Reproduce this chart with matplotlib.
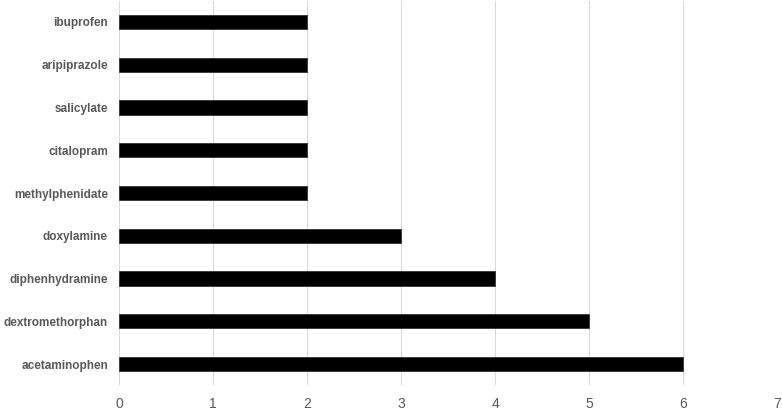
import matplotlib
matplotlib.use("Agg")
import matplotlib.pyplot as plt

drugs = ["acetaminophen", "dextromethorphan", "diphenhydramine", "doxylamine",
         "methylphenidate", "citalopram", "salicylate", "aripiprazole", "ibuprofen"]
counts = [6, 5, 4, 3, 2, 2, 2, 2, 2]
xticks = [0, 1, 2, 3, 4, 5, 6, 7]

plt.rcParams['font.family'] = ['Liberation Sans', 'DejaVu Sans']

fig = plt.figure(figsize=(7.82, 4.09), dpi=100)
ax = fig.add_axes([119/782, (409-385.4)/409, (777-119)/782, (385.4-0.6)/409])

ax.barh(range(len(drugs)), counts, height=0.33, color="black", edgecolor="#333333",
        linewidth=0.6, zorder=3)

ax.set_xlim(0, 7)
ax.set_ylim(-0.5, len(drugs) - 0.5)
ax.set_xticks(xticks)
ax.set_yticks(range(len(drugs)))
ax.set_yticklabels(drugs, fontweight="bold", color="#595959", fontsize=8.5)
ax.tick_params(axis="y", length=0, pad=8)
ax.tick_params(axis="x", length=0, pad=8, labelsize=10, labelcolor="#595959")
ax.grid(axis="x", color="#d9d9d9", linewidth=0.8, zorder=0)
for s in ax.spines.values():
    s.set_visible(False)

fig.savefig("out.png", dpi=100)
